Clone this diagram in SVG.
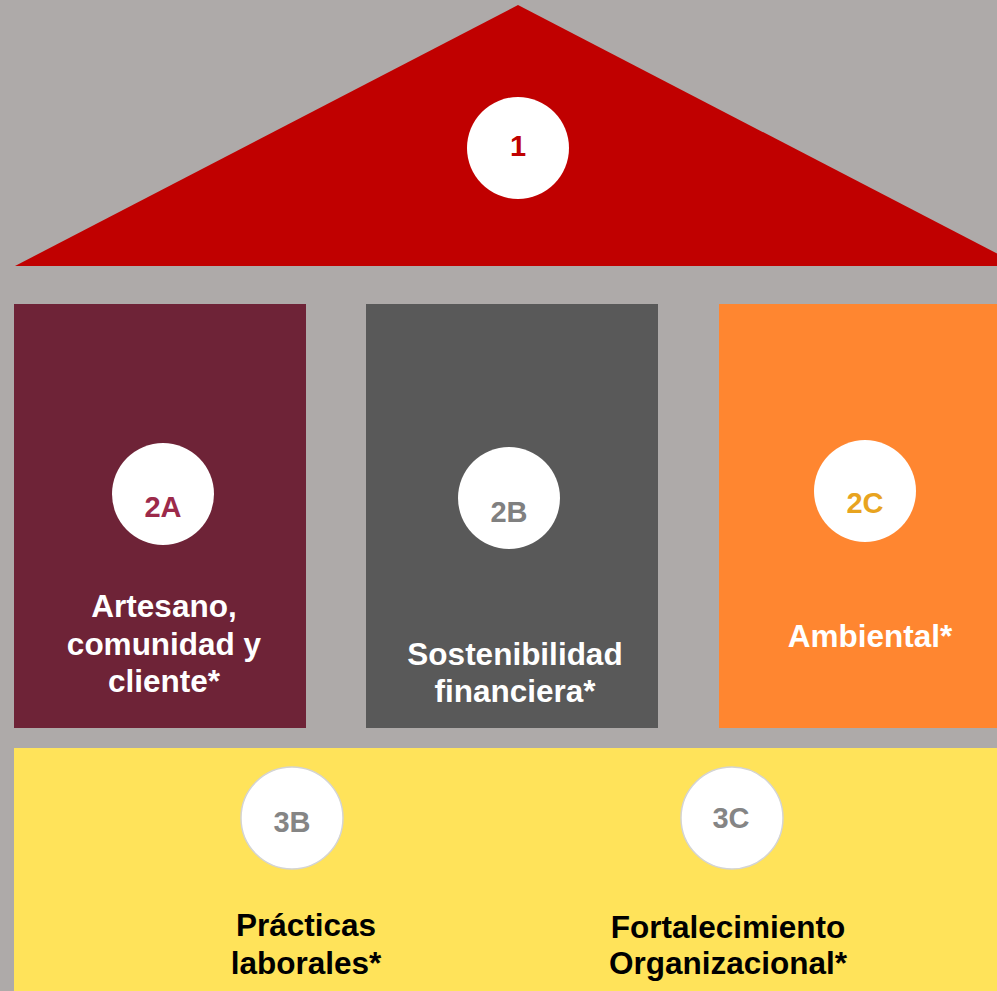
<svg xmlns="http://www.w3.org/2000/svg" width="997" height="991" viewBox="0 0 997 991">
<style>
.lbl{font-family:"Liberation Sans",Arial,sans-serif;font-weight:bold;font-size:31.5px;text-anchor:middle}
.num{font-family:"Liberation Sans",Arial,sans-serif;font-weight:bold;font-size:29px;text-anchor:middle}
.w{fill:#FFFFFF}
.k{fill:#000000}
.disc{fill:#FFFFFF}
.disc2{fill:#FFFFFF;stroke:#D4D4D4;stroke-width:1.5}
</style>
<rect x="0" y="0" width="997" height="991" fill="#AEAAA9"/>
<g id="roof">
<polygon points="518,5 15,266 1021,266" fill="#C00000"/>
<circle class="disc" cx="518" cy="148" r="51"/>
<text class="num" x="518" y="156" fill="#C00000">1</text>
</g>
<g id="pillar-2A">
<rect x="14" y="304" width="292" height="424" fill="#6E2337"/>
<circle class="disc" cx="163" cy="494" r="51"/>
<text class="num" x="163" y="517" fill="#9C2A4A">2A</text>
<text class="lbl w" x="164" y="617">Artesano,</text>
<text class="lbl w" x="164" y="655">comunidad y</text>
<text class="lbl w" x="164" y="692">cliente*</text>
</g>
<g id="pillar-2B">
<rect x="366" y="304" width="292" height="424" fill="#595959"/>
<circle class="disc" cx="509" cy="498" r="51"/>
<text class="num" x="509" y="522" fill="#808080">2B</text>
<text class="lbl w" x="515" y="665">Sostenibilidad</text>
<text class="lbl w" x="515" y="702">financiera*</text>
</g>
<g id="pillar-2C">
<rect x="719" y="304" width="278" height="424" fill="#FF8630"/>
<circle class="disc" cx="865" cy="491" r="51"/>
<text class="num" x="865" y="513" fill="#E8A41F">2C</text>
<text class="lbl w" x="870" y="647">Ambiental*</text>
</g>
<g id="base">
<rect x="14" y="748" width="983" height="243" fill="#FFE35A"/>
</g>
<g id="node-3B">
<circle class="disc2" cx="292" cy="818" r="51"/>
<text class="num" x="292" y="832" fill="#858585">3B</text>
<text class="lbl k" x="306" y="936">Prácticas</text>
<text class="lbl k" x="306" y="974">laborales*</text>
</g>
<g id="node-3C">
<circle class="disc2" cx="732" cy="818" r="51"/>
<text class="num" x="731" y="828" fill="#858585">3C</text>
<text class="lbl k" x="728" y="938">Fortalecimiento</text>
<text class="lbl k" x="728" y="974">Organizacional*</text>
</g>
<g id="connectors"/>
</svg>
